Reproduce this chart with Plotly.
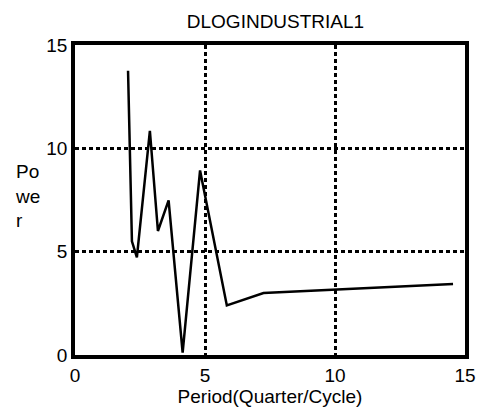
import plotly.graph_objects as go

period = [2.04, 2.19, 2.38, 2.88, 3.19, 3.60, 4.14, 4.81, 5.84, 7.25, 14.54]
power = [13.75, 5.5, 4.72, 10.85, 6.0, 7.48, 0.12, 8.93, 2.4, 3.0, 3.43]

title_text = "DLOGINDUSTRIAL1"
x_label = "Period(Quarter/Cycle)"
y_label = "Po<br>we<br>r"
ticks = [0, 5, 10, 15]

fig = go.Figure()
fig.add_trace(go.Scatter(x=period, y=power, mode="lines",
                         line=dict(color="black", width=2.5), showlegend=False))

font = dict(family="Arial, Liberation Sans, sans-serif", color="black")

fig.update_layout(
    width=488, height=417,
    margin=dict(l=75, r=20, t=45, b=62),
    paper_bgcolor="white", plot_bgcolor="white",
    font=font,
    title=dict(text=title_text, x=0.5645, xanchor="center", y=0.948, yanchor="middle",
               font=dict(size=19, **font)),
)
fig.update_xaxes(range=[0, 15], tickvals=ticks, ticks="", tickfont=dict(size=19),
                 showline=True, mirror=True, linecolor="black", linewidth=3.5,
                 showgrid=True, gridcolor="black", gridwidth=3, griddash="4px,3px",
                 zeroline=False,
                 title=dict(text=x_label, font=dict(size=19), standoff=4))
fig.update_yaxes(range=[0, 15], tickvals=ticks, ticks="", tickfont=dict(size=19),
                 showline=True, mirror=True, linecolor="black", linewidth=3.5,
                 showgrid=True, gridcolor="black", gridwidth=3, griddash="4px,3px",
                 zeroline=False)
fig.add_annotation(text=y_label, xref="paper", yref="paper", x=-0.158, y=0.513,
                   xanchor="left", yanchor="middle", align="left", showarrow=False,
                   font=dict(size=19, **font))

fig.write_html("out.html", config={"displayModeBar": False},
               post_script="document.body.style.margin='0';")
